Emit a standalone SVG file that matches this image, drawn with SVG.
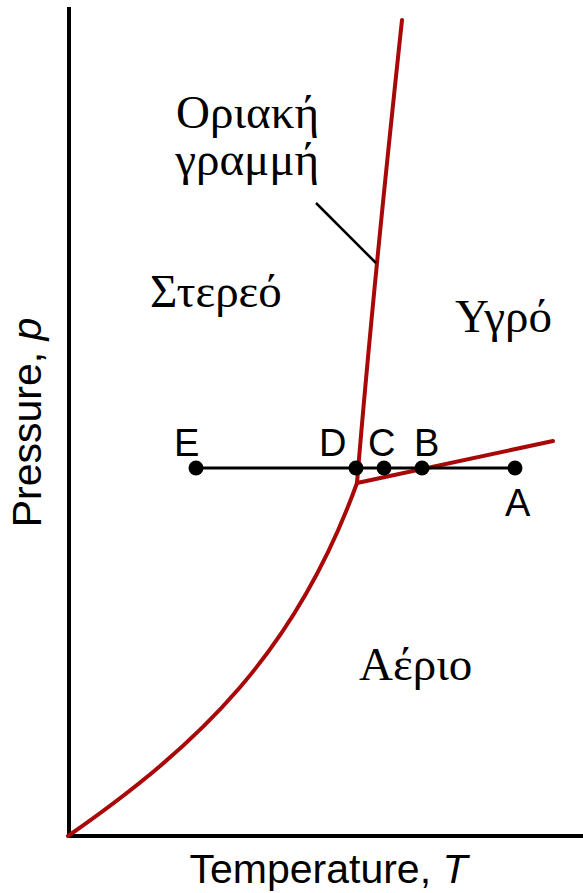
<svg xmlns="http://www.w3.org/2000/svg" width="583" height="893" viewBox="0 0 583 893">
<style>
.ax{stroke:#000;stroke-width:4;fill:none}
.red{stroke:#a80808;stroke-width:4;fill:none;stroke-linejoin:round;stroke-linecap:round}
.blk{stroke:#000;stroke-width:3;fill:none}
.ptr{stroke:#000;stroke-width:2.5;fill:none}
.gr{font-family:"Liberation Serif","DejaVu Serif",serif;font-size:47px;fill:#000}
.sa{font-family:"Liberation Sans",Arial,sans-serif;font-size:41px;fill:#000}
.pt{font-family:"Liberation Sans",Arial,sans-serif;font-size:38px;fill:#000}
.dot{fill:#000}
</style>
<rect width="583" height="893" fill="#fff"/>
<g id="axes">
<path class="ax" d="M69,7 V836 H583"/>
</g>
<g id="connectors">
<path class="red" d="M402,20 Q372,300 357,483"/>
<path class="red" d="M357,483 L553,441"/>
<path class="red" d="M68,836 C199,745 296,652 357,483"/>
<path class="blk" d="M196,468 H515"/>
<path class="ptr" d="M316,203 L376,263"/>
</g>
<g id="points">
<g id="E"><circle class="dot" cx="196" cy="468" r="7.5"/><text class="pt" x="174" y="456">E</text></g>
<g id="D"><circle class="dot" cx="356" cy="468" r="7.5"/><text class="pt" x="319" y="456">D</text></g>
<g id="C"><circle class="dot" cx="384" cy="468" r="7.5"/><text class="pt" x="368" y="456">C</text></g>
<g id="B"><circle class="dot" cx="422" cy="468" r="7.5"/><text class="pt" x="414" y="456">B</text></g>
<g id="A"><circle class="dot" cx="515" cy="468" r="7.5"/><text class="pt" x="505" y="516">A</text></g>
</g>
<g id="labels">
<text class="gr" x="319" y="128" text-anchor="end">Οριακή</text>
<text class="gr" x="319" y="175" text-anchor="end">γραμμή</text>
<text class="gr" x="150" y="307">Στερεό</text>
<text class="gr" x="455" y="332">Υγρό</text>
<text class="gr" x="359" y="680">Αέριο</text>
<text class="sa" x="328.5" y="883" text-anchor="middle">Temperature, <tspan font-style="italic">T</tspan></text>
<text class="sa" transform="translate(41,422.5) rotate(-90)" text-anchor="middle">Pressure, <tspan font-style="italic">p</tspan></text>
</g>
</svg>
